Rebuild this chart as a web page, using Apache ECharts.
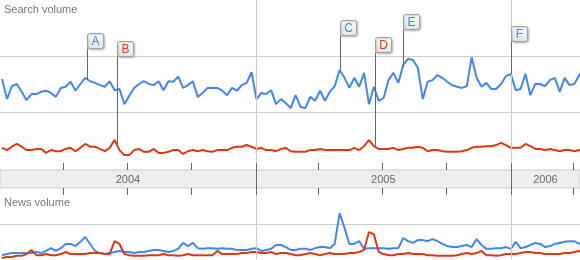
<!DOCTYPE html>
<html><head><meta charset="utf-8">
<script src="https://cdn.jsdelivr.net/npm/echarts@6.0.0/dist/echarts.min.js"></script>
<style>html,body{margin:0;padding:0;background:#fff}#c{width:580px;height:260px}</style>
</head><body><div id="c"></div>
<script>
// ---------------- data ----------------
const firstWeek = '2004-01-04';          // date of first weekly sample
const viewEndDate = '2006-04-10';        // last visible date
const panelTitles = ['Search volume', 'News volume'];
const yearLabels = ['2004', '2005', '2006'];

const searchBlue = [
1.59,1.23,1.46,1.50,1.36,1.21,1.32,1.32,1.36,1.38,
1.34,1.27,1.43,1.45,1.54,1.38,1.50,1.61,1.55,1.52,
1.48,1.45,1.55,1.39,1.41,1.14,1.29,1.43,1.50,1.55,
1.50,1.48,1.55,1.39,1.55,1.54,1.63,1.43,1.48,1.55,
1.27,1.34,1.43,1.43,1.43,1.38,1.30,1.43,1.38,1.48,
1.52,1.71,1.23,1.34,1.32,1.39,1.14,1.23,1.16,1.07,
1.30,1.09,1.07,1.27,1.20,1.38,1.20,1.36,1.46,1.75,
1.61,1.43,1.61,1.45,1.70,1.14,1.45,1.20,1.25,1.57,
1.70,1.52,1.84,1.95,1.93,1.79,1.23,1.54,1.57,1.66,
1.61,1.54,1.48,1.45,1.43,1.46,1.98,1.61,1.45,1.52,
1.41,1.41,1.50,1.64,1.68,1.39,1.41,1.68,1.30,1.50,
1.50,1.46,1.57,1.61,1.36,1.61,1.48,1.50,1.66,1.75];

const searchRed = [
0.36,0.32,0.38,0.43,0.38,0.32,0.32,0.34,0.34,0.27,
0.32,0.30,0.30,0.34,0.36,0.30,0.36,0.43,0.38,0.38,
0.34,0.30,0.36,0.50,0.32,0.23,0.23,0.32,0.34,0.29,
0.29,0.34,0.27,0.27,0.29,0.32,0.32,0.25,0.30,0.32,
0.30,0.32,0.30,0.29,0.32,0.32,0.32,0.36,0.38,0.38,
0.41,0.38,0.34,0.36,0.32,0.32,0.30,0.34,0.36,0.30,
0.29,0.29,0.29,0.32,0.32,0.34,0.32,0.32,0.32,0.32,
0.32,0.32,0.36,0.32,0.39,0.50,0.39,0.34,0.34,0.34,
0.36,0.32,0.34,0.36,0.36,0.38,0.36,0.30,0.32,0.32,
0.30,0.29,0.29,0.29,0.30,0.32,0.36,0.38,0.38,0.39,
0.39,0.41,0.45,0.41,0.36,0.36,0.36,0.43,0.39,0.34,
0.34,0.32,0.34,0.32,0.30,0.32,0.32,0.30,0.32,0.34];

const newsBlue = [
0.11,0.14,0.17,0.17,0.17,0.17,0.17,0.20,0.17,0.23,
0.31,0.23,0.31,0.43,0.43,0.37,0.49,0.63,0.43,0.23,
0.17,0.14,0.17,0.20,0.23,0.20,0.20,0.17,0.20,0.20,
0.23,0.26,0.26,0.23,0.20,0.23,0.29,0.46,0.37,0.46,
0.31,0.29,0.31,0.31,0.29,0.31,0.29,0.29,0.26,0.26,
0.26,0.29,0.31,0.23,0.26,0.29,0.40,0.40,0.34,0.26,
0.26,0.29,0.29,0.26,0.31,0.34,0.34,0.31,0.43,1.31,
0.89,0.43,0.43,0.51,0.29,0.31,0.31,0.31,0.31,0.29,
0.31,0.31,0.60,0.51,0.46,0.54,0.54,0.51,0.57,0.51,
0.43,0.37,0.34,0.34,0.37,0.40,0.34,0.57,0.40,0.29,
0.29,0.31,0.31,0.34,0.29,0.49,0.31,0.34,0.40,0.46,
0.43,0.34,0.37,0.43,0.46,0.49,0.51,0.51,0.43,0.54];

const newsRed = [
0.03,0.06,0.06,0.09,0.09,0.14,0.26,0.11,0.11,0.14,
0.11,0.11,0.14,0.20,0.14,0.14,0.14,0.14,0.17,0.17,
0.17,0.14,0.14,0.51,0.43,0.14,0.11,0.09,0.09,0.09,
0.11,0.11,0.11,0.14,0.11,0.11,0.09,0.11,0.14,0.11,
0.11,0.11,0.11,0.11,0.23,0.14,0.14,0.14,0.14,0.17,
0.17,0.20,0.20,0.17,0.17,0.20,0.14,0.17,0.17,0.14,
0.11,0.11,0.14,0.17,0.14,0.11,0.14,0.17,0.14,0.14,
0.14,0.17,0.17,0.20,0.26,0.77,0.71,0.20,0.14,0.11,
0.11,0.14,0.14,0.17,0.14,0.14,0.14,0.11,0.11,0.09,
0.09,0.09,0.09,0.11,0.14,0.17,0.14,0.17,0.23,0.11,
0.11,0.09,0.11,0.14,0.14,0.14,0.17,0.20,0.20,0.17,
0.17,0.14,0.14,0.14,0.14,0.17,0.17,0.20,0.23,0.17];

const flagLetters = ['A', 'B', 'C', 'D', 'E', 'F'];
const flagDates = ['2004-05-05', '2004-06-17', '2005-05-01', '2005-06-20', '2005-07-30', '2006-01-01'];
const flagSeries = ['blue', 'red', 'blue', 'red', 'blue', 'blue'];

// ---------------- layout / style ----------------
const BLUE = '#4684ee', RED = '#dc3912';
const FONT = '"Liberation Sans", Arial, sans-serif';
const flagTops = [33, 41, 20, 37, 14, 26];
const FLAG_W = 16, FLAG_H = 15;

function dayOf(s) {
  const p = s.split('-').map(Number);
  return (Date.UTC(p[0], p[1] - 1, p[2]) - Date.UTC(2004, 0, 1)) / 864e5;
}
const viewStart = 0, viewEnd = dayOf(viewEndDate);
const start = dayOf(firstWeek);
const pts = arr => arr.map((v, i) => [start + 7 * i, v]);
const yearStarts = yearLabels.map(y => dayOf(y + '-01-01'));
const yearBounds = yearStarts.filter(d => d > viewStart && d < viewEnd);
const quarterTicks = [];
yearLabels.forEach(y => [1, 4, 7, 10].forEach(m => {
  const d = dayOf(y + '-' + String(m).padStart(2, '0') + '-01');
  if (d > viewStart && d < viewEnd) quarterTicks.push(d);
}));
const yearMids = yearLabels.map((y, k) => {
  const a = Math.max(yearStarts[k], viewStart);
  const b = Math.min(dayOf((+y + 1) + '-01-01'), viewEnd);
  return [(a + b) / 2, 0.5, y];
});

function yearLines(color) {
  return {
    silent: true, symbol: 'none', label: {show: false},
    lineStyle: {color: color, width: 1, type: 'solid'},
    emphasis: {disabled: true},
    data: yearBounds.map(d => ({xAxis: d}))
  };
}

const chart = echarts.init(document.getElementById('c'), null, {renderer: 'canvas'});
const hiddenX = (gi) => ({
  gridIndex: gi, type: 'value', min: viewStart, max: viewEnd, show: true,
  axisLine: {show: false, onZero: false}, axisTick: {show: false}, axisLabel: {show: false}, splitLine: {show: false}
});
const bandX = (pos) => ({
  gridIndex: 2, type: 'value', min: viewStart, max: viewEnd, position: pos, z: 10,
  axisLine: {show: false, onZero: false}, axisLabel: {show: false}, splitLine: {show: false},
  axisTick: {show: true, inside: false, length: 7, customValues: quarterTicks, lineStyle: {color: '#666', width: 1}}
});
const valY = (gi, max) => ({
  gridIndex: gi, type: 'value', min: 0, max: max, interval: 1,
  axisLine: {show: false}, axisTick: {show: false}, axisLabel: {show: false},
  splitLine: {show: true, showMinLine: false, showMaxLine: false, lineStyle: {color: '#cccccc', width: 1}}
});
const lineS = (name, data, color, xi) => ({
  name: name, type: 'line', xAxisIndex: xi, yAxisIndex: xi, data: data,
  symbol: 'none', showSymbol: false, silent: true, animation: false,
  lineStyle: {color: color, width: 2}, itemStyle: {color: color}, emphasis: {disabled: true}
});

const grad = new echarts.graphic.LinearGradient(0, 0, 0, 1, [
  {offset: 0, color: '#ffffff'}, {offset: 1, color: '#e4e4e4'}]);

const option = {
  animation: false,
  backgroundColor: '#ffffff',
  title: [
    {text: panelTitles[0], left: 4, top: 4, padding: 0,
     textStyle: {fontSize: 11, color: '#777', fontWeight: 'normal', fontFamily: FONT}},
    {text: panelTitles[1], left: 4, top: 197, padding: 0,
     textStyle: {fontSize: 11, color: '#777', fontWeight: 'normal', fontFamily: FONT}}
  ],
  grid: [
    {left: 0, right: 0, top: 0, height: 168},
    {left: 0, right: 0, top: 189, height: 70},
    {left: 0, right: 0, top: 170, height: 18, show: true, backgroundColor: '#eeeeee', borderColor: '#cccccc', borderWidth: 1}
  ],
  xAxis: [hiddenX(0), hiddenX(1), bandX('top'), bandX('bottom')],
  yAxis: [valY(0, 3), valY(1, 2), {gridIndex: 2, type: 'value', min: 0, max: 1, show: false}],
  series: [
    Object.assign(lineS('search blue', pts(searchBlue), BLUE, 0), {markLine: yearLines('#cccccc')}),
    lineS('search red', pts(searchRed), RED, 0),
    Object.assign(lineS('news blue', pts(newsBlue), BLUE, 1), {markLine: yearLines('#cccccc')}),
    lineS('news red', pts(newsRed), RED, 1),
    {
      type: 'scatter', xAxisIndex: 3, yAxisIndex: 2, data: yearMids, symbolSize: 0, silent: true,
      label: {show: true, position: 'inside', formatter: p => p.data[2], color: '#444', fontSize: 11, fontFamily: FONT, offset: [0, 1]},
      markLine: yearLines('#666666'), z: 11
    },
    {
      type: 'custom', xAxisIndex: 0, yAxisIndex: 0, z: 5, silent: true,
      data: flagDates.map((d, k) => [dayOf(d), k]),
      renderItem: function (params, api) {
        const d = api.value(0), k = api.value(1);
        const isRed = flagSeries[k] === 'red';
        const arr = isRed ? searchRed : searchBlue;
        const t = (d - start) / 7;
        const i0 = Math.max(0, Math.floor(t)), f = t - i0;
        const v = arr[i0] * (1 - f) + arr[Math.min(i0 + 1, arr.length - 1)] * f;
        const p = api.coord([d, v]);
        const x = Math.round(p[0]) + 0.5;
        const top = flagTops[k] + 0.5;
        return {type: 'group', children: [
          {type: 'line', shape: {x1: x, y1: top + FLAG_H, x2: x, y2: p[1]}, style: {stroke: '#666', lineWidth: 1}},
          {type: 'rect', shape: {x: x, y: top, width: FLAG_W, height: FLAG_H, r: 2},
           style: {fill: grad, stroke: '#a0a0a0', lineWidth: 1, shadowBlur: 2, shadowOffsetX: 1, shadowOffsetY: 1, shadowColor: 'rgba(0,0,0,0.25)'}},
          {type: 'text', z2: 10, style: {text: flagLetters[k], x: x + FLAG_W / 2, y: top + FLAG_H / 2 + 0.5,
           align: 'center', verticalAlign: 'middle', fill: isRed ? RED : BLUE, opacity: 1,
           fontSize: 12, fontFamily: FONT}}
        ]};
      }
    }
  ]
};
chart.setOption(option);
</script></body></html>
